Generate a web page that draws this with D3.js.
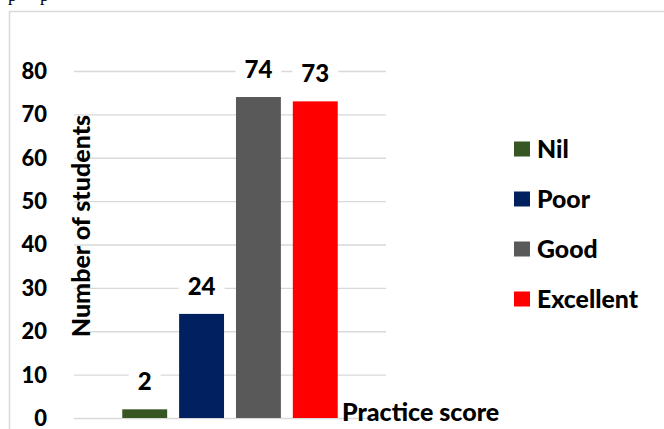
<!DOCTYPE html>
<html><head><meta charset="utf-8">
<script src="https://cdn.jsdelivr.net/npm/d3@7"></script>
<style>
html,body{margin:0;padding:0;background:#fff;}
svg{display:block;}
</style></head>
<body>
<svg id="chart" width="664" height="429"></svg>
<script>
const categories = ["Practice score"];
const seriesNames = ["Nil", "Poor", "Good", "Excellent"];
const seriesValues = [2, 24, 74, 73];
const seriesColors = ["#375623", "#002060", "#595959", "#FF0000"];
const yTicks = [0, 10, 20, 30, 40, 50, 60, 70, 80];

const svg = d3.select("#chart");
const font = "Lato, 'Open Sans', sans-serif";

// cut-off text fragments above the chart frame
svg.append("text").attr("x", 8).attr("y", 1).attr("font-family", "'Liberation Serif', serif")
  .attr("font-size", 18).attr("fill", "#000").text("p");
svg.append("text").attr("x", 40).attr("y", 1).attr("font-family", "'Liberation Serif', serif")
  .attr("font-size", 18).attr("fill", "#000").text("p");

// chart frame
svg.append("rect").attr("x", 9.5).attr("y", 11.5).attr("width", 700).attr("height", 500)
  .attr("fill", "#fff").attr("stroke", "#d9d9d9").attr("stroke-width", 1.5);

const plot = {left: 74, right: 386, top: 71, bottom: 418};
const y = d3.scaleLinear().domain([0, 80]).range([plot.bottom, plot.top]);
const x0 = d3.scaleBand().domain(categories).range([plot.left, plot.right]).paddingInner(0.183).paddingOuter(0.183);
const x1 = d3.scaleBand().domain(seriesNames).range([0, x0.bandwidth()]).paddingInner(0.21);

// gridlines + tick labels
const yAxis = d3.axisLeft(y).tickValues(yTicks).tickSize(-(plot.right - plot.left)).tickPadding(27);
const gAxis = svg.append("g").attr("transform", `translate(${plot.left},0)`).call(yAxis);
gAxis.select(".domain").remove();
gAxis.selectAll(".tick line").attr("stroke", "#d9d9d9").attr("stroke-width", 1.3);
gAxis.selectAll(".tick text").attr("font-family", font).attr("font-weight", "900")
  .attr("font-size", 22).attr("fill", "#000").attr("dy", "0.34em");

// bars
const data = seriesNames.map((n, i) => ({name: n, value: seriesValues[i], color: seriesColors[i]}));
const gBars = svg.append("g").attr("transform", `translate(${x0(categories[0])},0)`);
gBars.selectAll("rect.bar").data(data).join("rect").attr("class", "bar")
  .attr("x", d => x1(d.name)).attr("width", x1.bandwidth())
  .attr("y", d => y(d.value)).attr("height", d => y(0) - y(d.value))
  .attr("fill", d => d.color);

// data labels with white background
const lbl = gBars.selectAll("g.lbl").data(data).join("g").attr("class", "lbl")
  .attr("transform", d => `translate(${x1(d.name) + x1.bandwidth() / 2},${y(d.value) - 19})`);
lbl.append("text").attr("text-anchor", "middle")
  .attr("font-family", font).attr("font-weight", "900").attr("font-size", 24).attr("fill", "#000")
  .text(d => d.value);
lbl.each(function() {
  const b = d3.select(this).select("text").node().getBBox();
  d3.select(this).insert("rect", "text").attr("x", b.x - 9).attr("y", b.y - 1)
    .attr("width", b.width + 18).attr("height", b.height + 2).attr("fill", "#fff");
});

// axis titles
svg.append("text").attr("transform", `translate(90,226) rotate(-90)`).attr("text-anchor", "middle")
  .attr("font-family", font).attr("font-weight", "900").attr("font-size", 25).attr("fill", "#000")
  .text("Number of students");
svg.append("text").attr("x", 342).attr("y", 421)
  .attr("font-family", font).attr("font-weight", "900").attr("font-size", 25).attr("fill", "#000")
  .text("Practice score");

// legend
const legend = svg.append("g").attr("transform", "translate(514,149)");
const li = legend.selectAll("g").data(data).join("g").attr("transform", (d, i) => `translate(0,${i * 50})`);
li.append("rect").attr("x", 0).attr("y", -7.5).attr("width", 16).attr("height", 15).attr("fill", d => d.color);
li.append("text").attr("x", 23).attr("y", 0).attr("dy", "0.36em")
  .attr("font-family", font).attr("font-weight", "900").attr("font-size", 24.8).attr("fill", "#000")
  .text(d => d.name);
</script>
</body></html>
